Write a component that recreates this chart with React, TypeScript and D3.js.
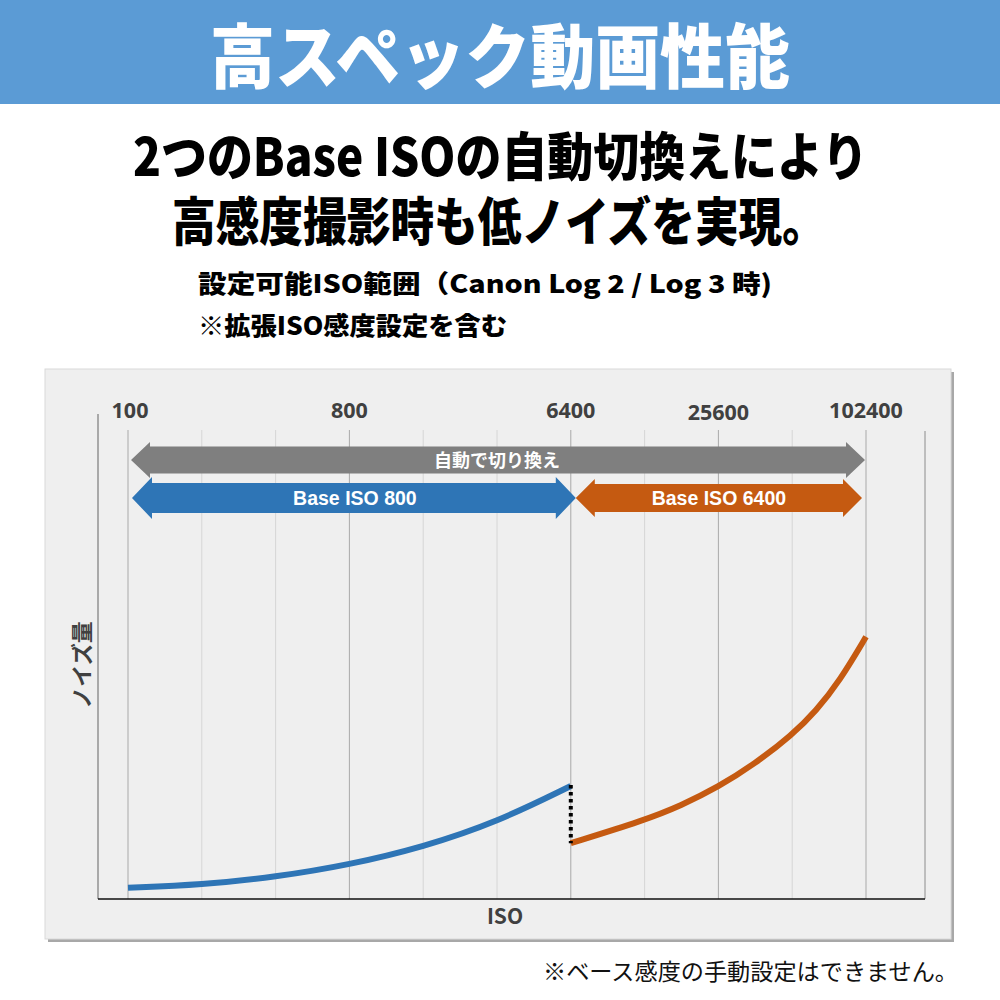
import * as d3 from 'd3';

// ISO grid (log2 steps) and labelled ticks
const isoGrid = [100, 200, 400, 800, 1600, 3200, 6400, 12800, 25600, 51200, 102400];
const isoLabels = ['100', '800', '6400', '25600', '102400'];

// noise curves (arbitrary units, 0-100)
const blueIso = [100, 200, 400, 800, 1600, 3200, 6400];
const blueNoise = [2.4, 3.0, 4.7, 7.3, 11.1, 16.4, 24.1];
const orangeIso = [6400, 12800, 18000, 25600, 36000, 51200, 64000, 80000, 102400];
const orangeNoise = [11.9, 16.8, 19.9, 23.9, 28.8, 35.0, 40.1, 46.5, 55.9];

// range arrows: [from ISO, to ISO, label]
const arrowFrom = [100, 100, 6400];
const arrowTo = [102400, 6400, 102400];
const arrowLabels = ['自動で切り換え', 'Base ISO 800', 'Base ISO 6400'];

const JP = '"Noto Sans CJK JP", "Noto Sans", sans-serif';
const LAT = '"Liberation Sans", Arial, sans-serif';

export default function App() {
  const x = d3.scaleLog().base(2).domain([100, 102400]).range([128, 866]);
  const y = d3.scaleLinear().domain([0, 100]).range([899, 430]);

  const line = d3
    .line<[number, number]>()
    .x((d) => x(d[0]))
    .y((d) => y(d[1]))
    .curve(d3.curveBasis);

  const bluePath = line(blueIso.map((v, i) => [v, blueNoise[i]]));
  const orangePath = line(orangeIso.map((v, i) => [v, orangeNoise[i]]));

  // arrow styles
  const arrowStyle = [
    { cy: 460, shaft: 13.5, head: 18, len: 19, fill: '#7f7f7f', l: 3, r: -1, size: 18, font: JP },
    { cy: 498, shaft: 15, head: 21, len: 20, fill: '#2e75b6', l: 4, r: 5, size: 19.5, font: LAT },
    { cy: 498, shaft: 14, head: 19, len: 19, fill: '#c55a11', l: 5, r: -4, size: 19.5, font: LAT },
  ];

  const arrowPath = (x0: number, x1: number, s: typeof arrowStyle[0]) => {
    const p = d3.path();
    p.moveTo(x0, s.cy);
    p.lineTo(x0 + s.len, s.cy - s.head);
    p.lineTo(x0 + s.len, s.cy - s.shaft);
    p.lineTo(x1 - s.len, s.cy - s.shaft);
    p.lineTo(x1 - s.len, s.cy - s.head);
    p.lineTo(x1, s.cy);
    p.lineTo(x1 - s.len, s.cy + s.head);
    p.lineTo(x1 - s.len, s.cy + s.shaft);
    p.lineTo(x0 + s.len, s.cy + s.shaft);
    p.lineTo(x0 + s.len, s.cy + s.head);
    p.closePath();
    return p.toString();
  };

  return (
    <svg
      width={1000}
      height={1000}
      style={{ position: 'absolute', left: 0, top: 0, background: '#fff' }}
    >
      {/* header band */}
      <rect x={0} y={0} width={1000} height={104} fill="#5b9bd5" />
      <text
        x={500}
        y={83}
        textAnchor="middle"
        fill="#fff"
        fontFamily={JP}
        fontWeight={900}
        fontSize={70}
        textLength={580}
        lengthAdjust="spacingAndGlyphs"
      >
        高スペック動画性能
      </text>

      <text x={500.5} y={176} textAnchor="middle" fontFamily={JP} fontWeight={900} fontSize={52}
        textLength={735} lengthAdjust="spacingAndGlyphs">
        2つのBase ISOの自動切換えにより
      </text>
      <text x={499} y={241} textAnchor="middle" fontFamily={JP} fontWeight={900} fontSize={52}
        textLength={654} lengthAdjust="spacingAndGlyphs">
        高感度撮影時も低ノイズを実現。
      </text>
      <text x={198} y={293} fontFamily={JP} fontWeight={900} fontSize={25}
        textLength={574} lengthAdjust="spacingAndGlyphs">
        設定可能ISO範囲（Canon Log 2 / Log 3 時)
      </text>
      <text x={198} y={335} fontFamily={JP} fontWeight={900} fontSize={25}
        textLength={309} lengthAdjust="spacingAndGlyphs">
        ※拡張ISO感度設定を含む
      </text>

      {/* chart panel */}
      <rect x={48} y={372} width={906} height={570} fill="#a8a8a8" />
      <rect x={45} y={369} width={906} height={570} fill="#efefef" stroke="#d9d9d9" strokeWidth={1} />

      {/* grid */}
      {isoGrid.map((v) => (
        <line
          key={v}
          x1={x(v)}
          x2={x(v)}
          y1={430}
          y2={899}
          stroke={isoLabels.includes(String(v)) ? '#a9a9a9' : '#d6d6d6'}
          strokeWidth={1}
        />
      ))}
      <line x1={925} x2={925} y1={431} y2={899} stroke="#8c8c8c" strokeWidth={1} />
      <line x1={98} x2={98} y1={414} y2={899} stroke="#7a7a7a" strokeWidth={1.2} />
      <line x1={98} x2={925} y1={899} y2={899} stroke="#111" strokeWidth={1.5} />

      {/* top tick labels */}
      {isoLabels.map((t, i) => (
        <text
          key={t}
          x={x(+t) + (i === 0 ? 2 : 0)}
          y={i === 3 ? 420 : 418}
          textAnchor="middle"
          fill="#404040"
          fontFamily={'"Open Sans", "Noto Sans", sans-serif'}
          fontWeight={700}
          fontSize={21.5}
        >
          {t}
        </text>
      ))}

      {/* arrows */}
      {arrowLabels.map((lab, i) => {
        const s = arrowStyle[i];
        const x0 = x(arrowFrom[i]) + s.l;
        const x1 = x(arrowTo[i]) + s.r;
        return (
          <g key={lab}>
            <path d={arrowPath(x0, x1, s)} fill={s.fill} />
            <text
              x={i === 0 ? 497 : (x0 + x1) / 2 + (i === 1 ? 1 : 0)}
              y={s.cy + 7}
              textAnchor="middle"
              fill="#fff"
              fontFamily={s.font}
              fontWeight={700}
              fontSize={s.size}
            >
              {lab}
            </text>
          </g>
        );
      })}

      {/* noise curves */}
      <path d={bluePath ?? ''} fill="none" stroke="#2e75b6" strokeWidth={6} />
      <path d={orangePath ?? ''} fill="none" stroke="#c55a11" strokeWidth={6} />
      <line
        x1={x(6400)}
        x2={x(6400)}
        y1={y(blueNoise[blueNoise.length - 1]) - 1}
        y2={y(orangeNoise[0])}
        stroke="#000"
        strokeWidth={4}
        strokeDasharray="3.5 3.5"
      />

      {/* axis titles */}
      <text x={505} y={924} textAnchor="middle" fill="#404040" fontFamily={JP} fontWeight={700} fontSize={21}>
        ISO
      </text>
      <text
        transform="translate(90,665) rotate(-90)"
        textAnchor="middle"
        fill="#404040"
        fontFamily={JP}
        fontWeight={700}
        fontSize={22}
      >
        ノイズ量
      </text>

      {/* footnote */}
      <text x={958} y={980} textAnchor="end" fill="#111" fontFamily={JP} fontWeight={400} fontSize={23}
        textLength={415} lengthAdjust="spacingAndGlyphs">
        ※ベース感度の手動設定はできません。
      </text>
    </svg>
  );
}
